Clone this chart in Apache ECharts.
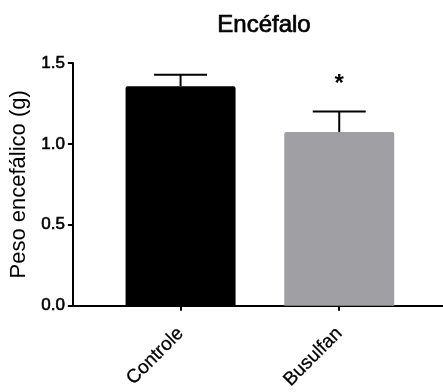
<!DOCTYPE html>
<html><head><meta charset="utf-8">
<script src="https://cdn.jsdelivr.net/npm/echarts@6/dist/echarts.min.js"></script>
<style>html,body{margin:0;padding:0;background:#fff}#c{width:443px;height:392px}</style>
</head><body><div id="c"></div>
<script>
var categories = ['Controle', 'Busulfan'];
var means = [1.357, 1.074];
var errors = [0.071, 0.126];
var significance = ['', '*'];
var barColors = ['#000000', '#a09fa4'];
var yTicks = [0, 0.5, 1.0, 1.5];

var positions = categories.map(function (c, i) { return i + 1; });
var barData = means.map(function (m, i) {
  return { value: [positions[i], m], itemStyle: { color: barColors[i] } };
});
var errData = means.map(function (m, i) { return [positions[i], m, errors[i], i]; });

var chart = echarts.init(document.getElementById('c'), null, { renderer: 'canvas' });
var FONT = 'Liberation Sans, Arial, sans-serif';
chart.setOption({
  animation: false,
  title: {
    text: 'Encéfalo', left: 259, top: 8, textAlign: 'center',
    textStyle: { fontFamily: FONT, fontSize: 24, fontWeight: 'normal', color: '#000', textBorderColor: '#000', textBorderWidth: 0.7 }
  },
  grid: { left: 72, right: 0, top: 63, bottom: 81, containLabel: false },
  xAxis: {
    type: 'value', min: 0.321, max: 2.654,
    splitLine: { show: false },
    axisLine: { show: true, lineStyle: { color: '#000', width: 2 } },
    axisTick: { show: true, customValues: positions, length: 5, lineStyle: { color: '#000', width: 2 } },
    axisLabel: {
      customValues: positions, rotate: 45, margin: 25,
      fontFamily: FONT, fontSize: 19, color: '#000', textBorderColor: '#000', textBorderWidth: 0.3,
      formatter: function (v) { return categories[Math.round(v) - 1] || ''; }
    }
  },
  yAxis: {
    type: 'value', min: 0, max: 1.5, interval: 0.5,
    name: 'Peso encefálico (g)', nameLocation: 'middle', nameGap: 34, nameRotate: 90,
    nameTextStyle: { fontFamily: FONT, fontSize: 22, color: '#000' },
    splitLine: { show: false },
    axisLine: { show: true, lineStyle: { color: '#000', width: 2 } },
    axisTick: { show: true, length: 5, lineStyle: { color: '#000', width: 2 } },
    axisLabel: {
      margin: 8, fontFamily: FONT, fontSize: 17, color: '#000', textBorderColor: '#000', textBorderWidth: 0.6,
      formatter: function (v) { return v.toFixed(1); }
    }
  },
  series: [
    {
      type: 'bar', data: barData, barWidth: 110,
      itemStyle: { borderRadius: [2, 2, 0, 0] }, z: 2
    },
    {
      type: 'custom', data: errData, z: 3,
      renderItem: function (params, api) {
        var x = api.value(0), m = api.value(1), e = api.value(2), idx = api.value(3);
        var pTop = api.coord([x, m + e]);
        var pMid = api.coord([x, m]);
        var half = 26.5;
        var children = [
          { type: 'line', shape: { x1: pTop[0], y1: pTop[1], x2: pMid[0], y2: pMid[1] }, style: { stroke: '#000', lineWidth: 2 } },
          { type: 'line', shape: { x1: pTop[0] - half, y1: pTop[1], x2: pTop[0] + half, y2: pTop[1] }, style: { stroke: '#000', lineWidth: 2 } }
        ];
        var s = significance[idx];
        if (s) {
          children.push({ type: 'text', style: { text: s, x: pTop[0], y: pTop[1] - 27, align: 'center', verticalAlign: 'middle', fontFamily: FONT, fontSize: 24, fontWeight: 'bold', fill: '#000' } });
        }
        return { type: 'group', children: children };
      }
    }
  ]
});
</script>
</body></html>
